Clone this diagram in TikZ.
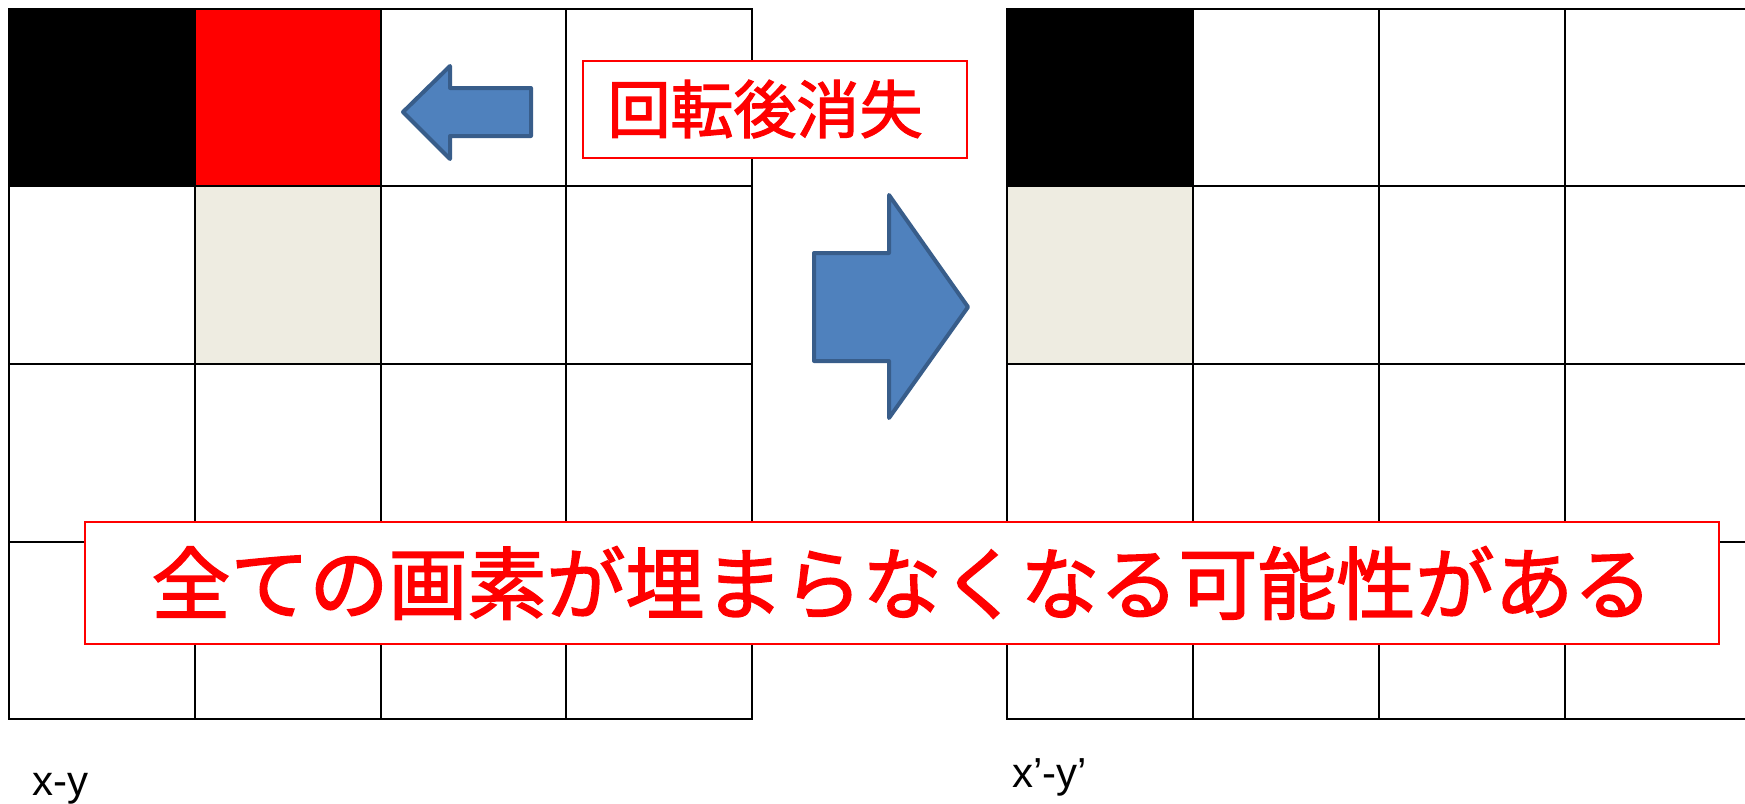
\documentclass[tikz,border=0pt]{standalone}
\usepackage{fontspec}
\setmainfont{Liberation Sans}
\newfontfamily\cjk[FakeBold=2]{Noto Sans CJK JP}
\definecolor{beige}{HTML}{EEECE1}
\definecolor{arrowfill}{HTML}{4F81BD}
\definecolor{arrowline}{HTML}{385D8A}
\begin{document}
\begin{tikzpicture}[x=0.5pt,y=-0.5pt,
  gridline/.style={line width=1pt, black},
  outerline/.style={line width=1.4pt, black},
  bigarrow/.style={fill=arrowfill, draw=arrowline, line width=2pt, line join=round},
  redbox/.style={draw=red, fill=white, line width=1pt, inner sep=0pt},
  redtext/.style={text=red, inner sep=0pt, font=\cjk},
  axislabel/.style={inner sep=0pt, anchor=base west, font=\fontsize{21pt}{24pt}\selectfont}]
\clip (0,0) rectangle (1745,803);
\fill[white] (0,0) rectangle (1745,803);
% left grid fills
\fill[black] (9,9) rectangle (195,186);
\fill[red] (195,9) rectangle (381,186);
\fill[beige] (195,186) rectangle (381,364);
% right grid fills
\fill[black] (1007,9) rectangle (1193,186);
\fill[beige] (1007,186) rectangle (1193,364);
% left grid
\foreach \x in {195,381,566} \draw[gridline] (\x,9) -- (\x,719);
\foreach \y in {186,364,542} \draw[gridline] (9,\y) -- (752,\y);
\draw[outerline] (9,9) rectangle (752,719);
% right grid
\foreach \x in {1193,1379,1565} \draw[gridline] (\x,9) -- (\x,719);
\foreach \y in {186,364,542} \draw[gridline] (1007,\y) -- (1751,\y);
\draw[outerline] (1007,9) rectangle (1751,719);
% arrows
\draw[bigarrow] (403,112) -- (450,66) -- (450,88) -- (531,88) -- (531,136) -- (450,136) -- (450,159) -- cycle;
\draw[bigarrow] (814,253) -- (889,253) -- (889,195) -- (968,307) -- (889,418) -- (889,361) -- (814,361) -- cycle;
% text boxes
\node[redbox, minimum width=192pt, minimum height=48.5pt] (box1) at (775,109) {};
\node[redtext, font=\cjk\fontsize{31.5pt}{36pt}\selectfont] (t1) at (765,109) {回転後消失};
\node[redbox, minimum width=817pt, minimum height=61pt] (box2) at (902,583) {};
\node[redtext, font=\cjk\fontsize{39.5pt}{44pt}\selectfont] (t2) at (902,583) {全ての画素が埋まらなくなる可能性がある};
% labels
\node[axislabel] (lxy) at (32,795) {x-y};
\node[axislabel] (rxy) at (1012,787) {x’-y’};
\end{tikzpicture}
\end{document}
